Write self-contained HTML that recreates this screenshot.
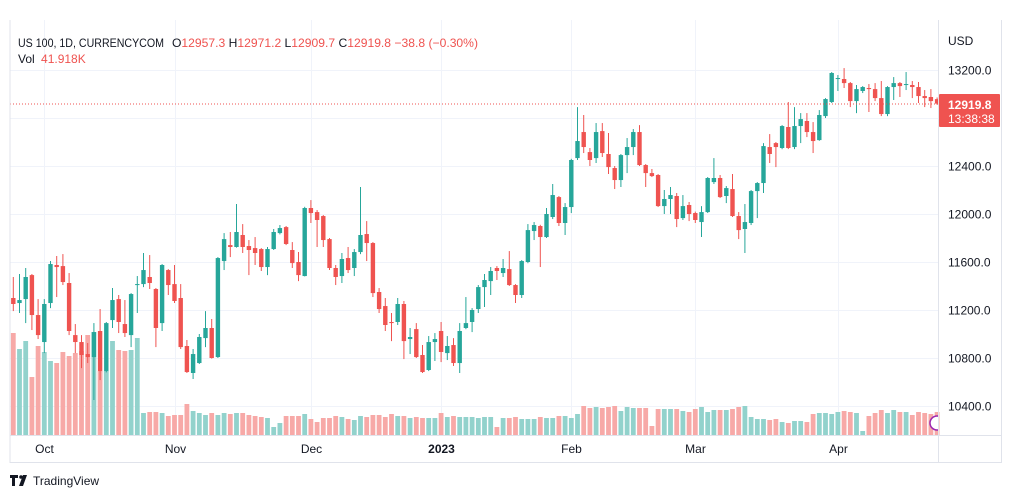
<!DOCTYPE html>
<html><head><meta charset="utf-8"><style>
html,body{margin:0;padding:0;background:#fff;width:1012px;height:498px;overflow:hidden;font-family:"Liberation Sans",sans-serif}
svg{display:block}
</style></head><body>
<svg id="chart" width="1012" height="498" viewBox="0 0 1012 498">
<defs><clipPath id="plotclip"><rect x="10" y="20" width="928" height="415"/></clipPath></defs>
<g id="grid"></g>
<g id="vols"></g>
<g id="candles"></g>
<line x1="10" y1="104" x2="938" y2="104" stroke="#ef5350" stroke-width="1" stroke-dasharray="1,2"/>
<g clip-path="url(#plotclip)"><circle cx="937" cy="423" r="7" fill="#fff" stroke="#9c27b0" stroke-width="1.5"/></g>
<line x1="10" y1="20" x2="10" y2="463" stroke="#e0e3eb"/>
<line x1="938.5" y1="20" x2="938.5" y2="463" stroke="#e0e3eb"/>
<line x1="1001.5" y1="20" x2="1001.5" y2="463" stroke="#e0e3eb"/>
<line x1="10" y1="435.5" x2="1002" y2="435.5" stroke="#e0e3eb"/>
<line x1="10" y1="462.5" x2="1002" y2="462.5" stroke="#e0e3eb"/>
<g id="yaxis" font-size="12" fill="#131722"></g>
<g id="xaxis" font-size="12" fill="#131722"></g>
<text x="948" y="45" font-size="12" fill="#131722">USD</text>
<g>
<rect x="939" y="94" width="61" height="33" fill="#ef5350" rx="1"/>
<text x="948" y="109" font-size="12" font-weight="bold" fill="#fff">12919.8</text>
<text x="948" y="123" font-size="12" fill="#fff">13:38:38</text>
</g>
<g font-size="12">
<text x="18" y="47" fill="#131722" textLength="146" lengthAdjust="spacingAndGlyphs">US 100, 1D, CURRENCYCOM</text>
<text x="172" y="47" fill="#131722" textLength="306" lengthAdjust="spacingAndGlyphs">O<tspan fill="#ef5350">12957.3</tspan>  H<tspan fill="#ef5350">12971.2</tspan>  L<tspan fill="#ef5350">12909.7</tspan>  C<tspan fill="#ef5350">12919.8</tspan>  <tspan fill="#ef5350">−38.8 (−0.30%)</tspan></text>
<text x="18" y="63" fill="#131722">Vol <tspan fill="#ef5350" dx="3">41.918K</tspan></text>
</g>
<g>
<path d="M10 475h8v3h-3v8h-3v-8h-2z M19 486l4-11h4l-4 11z" fill="#131722"/>
<circle cx="21" cy="477" r="1.8" fill="#131722"/>
<text x="33" y="485" font-size="12" fill="#131722">TradingView</text>
</g>
</svg>
<script>
const open_=[11300,11258,11291,11491,11158,10933,11258,11575,11566,11425,10991,10933,10833,10808,11025,10691,11116,11291,11083,10991,11408,11416,11475,11375,11091,11533,11416,11300,10900,10675,10758,10966,11050,10808,11608,11741,11725,11825,11733,11716,11708,11558,11708,11841,11891,11700,11600,11483,12050,12016,11983,11791,11550,11483,11633,11550,11683,11833,11758,11350,11233,11100,11100,11250,10958,11041,10825,10700,10933,11025,10841,10908,10758,11050,11100,11208,11391,11441,11550,11508,11541,11408,11325,11600,11858,11900,11808,11975,12141,11925,12058,12466,12683,12516,12466,12691,12500,12383,12283,12491,12558,12683,12408,12341,12325,12066,12125,12150,11966,12075,12008,11933,12016,12266,12300,12150,12208,11983,11875,11925,12191,12258,12558,12591,12550,12725,12558,12733,12775,12683,12616,12816,12933,13125,13125,13091,12941,13025,13050,13041,12966,12833,13058,13091,13075,13075,13058,12983,12975,12957.3];
const high=[11475,11500,11550,11500,11291,11291,11608,11650,11666,11508,11083,10991,10925,11091,11208,11100,11383,11325,11283,11341,11483,11675,11658,11383,11583,11541,11575,11416,10950,10875,11000,11191,11125,11641,11841,11850,12083,11916,11783,11808,11716,11725,11875,11908,11900,11766,11683,12060,12116,12033,11991,11800,11575,11675,11725,11708,12225,11941,11766,11383,11300,11175,11300,11275,11050,11091,10908,10983,11008,11100,10983,10966,11091,11308,11216,11408,11500,11558,11566,11625,11691,11416,11616,11916,11933,11910,12050,12250,12150,12091,12460,12891,12825,12550,12758,12758,12675,12400,12500,12633,12708,12741,12416,12375,12333,12200,12225,12175,12158,12100,12020,12066,12308,12466,12325,12233,12333,12016,12083,12200,12266,12591,12666,12600,12741,12933,12891,12841,12841,12766,12866,12966,13183,13158,13216,13100,13075,13066,13083,13091,13108,13066,13141,13100,13183,13108,13100,13033,13041,12971.2];
const low=[11191,11175,11091,11033,10958,10841,11216,11308,11408,10991,10841,10716,10758,10450,10616,10680,11050,11008,10975,10891,11175,11391,11375,10891,11025,11325,11258,10875,10675,10625,10750,10891,10795,10800,11533,11641,11720,11675,11491,11575,11525,11491,11700,11830,11741,11550,11441,11480,11925,11725,11725,11533,11408,11425,11508,11483,11666,11608,11308,11175,11025,10941,11075,10791,10833,10800,10675,10691,10775,10766,10783,10733,10675,11040,11016,11175,11225,11325,11450,11475,11400,11258,11300,11590,11783,11558,11800,11958,11900,11825,12008,12450,12508,12400,12425,12475,12333,12208,12225,12341,12491,12400,12225,12308,12058,12000,12000,11891,11950,11941,11925,11808,12008,12250,12133,12091,11975,11791,11675,11908,11966,12175,12425,12391,12540,12541,12541,12591,12641,12508,12610,12800,12925,13025,13050,12891,12841,13008,12850,12941,12816,12816,12950,12975,13033,12966,12925,12891,12883,12909.7];
const close=[11250,11283,11475,11158,10991,11250,11583,11558,11433,11025,10933,10825,10808,11016,10691,11091,11283,11100,11008,11333,11416,11533,11425,11050,11575,11408,11275,10891,10683,10833,10975,11050,10800,11633,11791,11725,11850,11725,11700,11675,11558,11708,11850,11883,11750,11591,11491,12050,12008,11950,11783,11550,11475,11625,11533,11683,11825,11758,11341,11208,11075,11091,11250,10941,10975,10808,10683,10933,10958,10850,10900,10758,11025,11091,11200,11391,11450,11525,11525,11550,11408,11325,11608,11866,11908,11808,12000,12158,11925,12058,12450,12608,12558,12450,12683,12508,12391,12283,12491,12558,12683,12408,12341,12316,12066,12125,12158,11958,12066,12000,11950,12016,12300,12300,12141,12216,11983,11866,11933,12191,12258,12566,12500,12558,12733,12550,12733,12791,12683,12608,12825,12958,13175,13133,13091,12941,13041,13058,13041,12966,12833,13058,13091,13066,13083,13058,12983,12966,12941,12919.8];
const volume=[204,172,188,116,178,166,148,144,166,158,164,168,200,206,128,128,188,170,168,170,194,44,46,46,44,38,40,40,62,48,44,40,44,40,44,42,44,44,40,38,36,34,16,24,38,38,38,42,32,26,34,34,38,36,32,30,38,36,40,40,36,42,38,38,34,36,34,34,34,44,36,38,36,36,36,34,36,36,16,34,34,36,32,32,32,36,34,34,38,38,34,42,58,54,56,54,56,58,48,56,54,54,54,18,52,52,52,52,48,46,52,56,46,50,50,50,52,56,58,36,32,32,30,32,26,24,28,28,26,42,44,44,42,46,48,46,44,8,38,44,50,44,50,46,46,40,46,44,42,46];
const yTicks=[13200,12800,12400,12000,11600,11200,10800,10400];
const xLabels=["Oct","Nov","Dec","2023","Feb","Mar","Apr"];
const xLabelIdx=[5,26,48,69,90,110,133];

const NS="http://www.w3.org/2000/svg";
const x0=13.3, step=6.2;
const xOf=i=>x0+step*i;
const yOf=p=>70+(13200-p)*0.12;
const vBase=435, vScale=0.5;
function mk(tag,attrs,parent){const e=document.createElementNS(NS,tag);for(const k in attrs)e.setAttribute(k,attrs[k]);parent.appendChild(e);return e;}
const grid=document.getElementById('grid'),yax=document.getElementById('yaxis'),xax=document.getElementById('xaxis');
yTicks.forEach(t=>{
  const y=Math.round(yOf(t))+0.5;
  const l=mk('line',{x1:10,x2:938,y1:y,y2:y,stroke:'#f0f3fa'},grid);
  
  
  const tx=mk('text',{x:948,y:y+4},yax);
  tx.textContent=t.toFixed(1);
  
  
});
xLabels.forEach((lab,k)=>{
  const x=Math.round(xOf(xLabelIdx[k]))+0.5;
  const l=mk('line',{x1:x,x2:x,y1:20,y2:435,stroke:'#f0f3fa'},grid);
  
  
  const tx=mk('text',{x:x,y:453,'text-anchor':'middle'},xax);
  if(lab==="2023")tx.setAttribute('font-weight','bold');
  tx.textContent=lab;
  
  
});
const cg=document.getElementById('candles'),vg=document.getElementById('vols');
for(let i=0;i<close.length;i++){
  const up=close[i]>=open_[i];
  const col=up?'#26a69a':'#ef5350';
  const x=xOf(i);
  const vh=volume[i]*vScale;
  const vb=mk('rect',{x:x-2.4,y:vBase-vh,width:4.8,height:vh,fill:up?'#92d2cc':'#f7a9a7'},vg);
  
  
  const w=mk('line',{x1:x,x2:x,y1:yOf(high[i]),y2:yOf(low[i]),stroke:col,'stroke-width':1},cg);
  
  
  const top=yOf(Math.max(open_[i],close[i])),bot=yOf(Math.min(open_[i],close[i]));
  const b=mk('rect',{x:x-2.2,y:top,width:4.4,height:Math.max(1,bot-top),fill:col},cg);
  
  
}
</script>
</body></html>
